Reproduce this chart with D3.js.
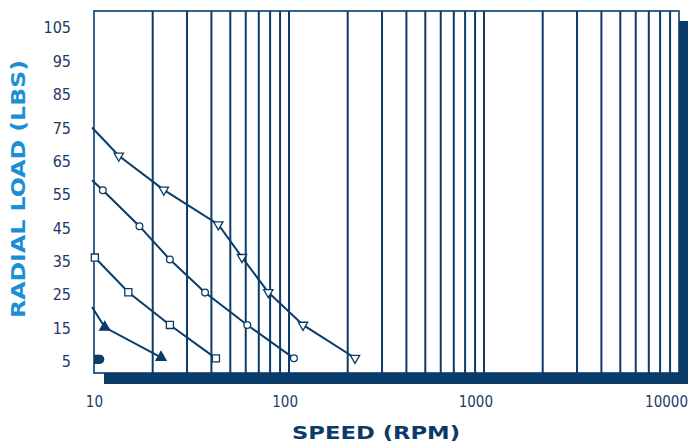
<!DOCTYPE html>
<html>
<head>
<meta charset="utf-8">
<script src="https://cdn.jsdelivr.net/npm/d3@7"></script>
<style>
	html, body { margin: 0; padding: 0; background: #fff; }
	svg { display: block; }
	.tick-label { font-family: "Liberation Sans Narrow", "DejaVu Sans Condensed", sans-serif; fill: #1c3a68; }
	.title { font-family: "DejaVu Sans", sans-serif; font-weight: bold; }
</style>
</head>
<body>
<svg id="chart" width="692" height="442"></svg>
<script>
/*global d3 */
// data: speed in rpm, radial load in lbs
var speedTicks = [10, 100, 1000, 10000];
var loadTicks = [5, 15, 25, 35, 45, 55, 65, 75, 85, 95, 105];

// first point of some series is only where the line starts (no marker)
var speedTriangleOpen = [9.77, 13.4, 22.8, 43.4, 57.4, 78.3, 118, 218];
var loadTriangleOpen = [75.1, 66.6, 56.4, 46.0, 36.2, 25.7, 15.9, 6.0];

var speedCircle = [9.77, 11.1, 17.1, 24.5, 37.1, 61.1, 106];
var loadCircle = [59.3, 56.3, 45.5, 35.5, 25.6, 15.9, 5.9];

var speedSquare = [10.1, 15.0, 24.5, 42.2];
var loadSquare = [36.1, 25.7, 15.9, 5.9];

var speedTriangleFilled = [9.77, 11.35, 22.06];
var loadTriangleFilled = [21.3, 15.2, 6.2];

var speedDot = [10.7];
var loadDot = [5.6];

(function () {
	'use strict';
	var svg, x, y, navy, plot,
		left, right, top, bottom,
		series, toPoints, drawSeries, drawDot;

	navy = '#0b3b69';
	svg = d3.select('#chart');

	x = d3.scaleLog().domain([10, 10000]).range([94, 679]);
	y = d3.scaleLinear().domain([1.5, 110]).range([373, 11]);

	left = x.range()[0];
	right = x.range()[1];
	top = y.range()[1];
	bottom = y.range()[0];

	// drop shadow behind the plot frame
	svg.append('rect')
		.attr('x', left + 10)
		.attr('y', top + 10)
		.attr('width', right - left - 1)
		.attr('height', bottom - top + 1)
		.attr('fill', navy);

	svg.append('rect')
		.attr('x', left)
		.attr('y', top)
		.attr('width', right - left)
		.attr('height', bottom - top)
		.attr('fill', '#fff')
		.attr('stroke', navy)
		.attr('stroke-width', 1.6);

	// vertical grid, one line per log tick
	plot = svg.append('g');
	plot.selectAll('line.grid')
		.data(x.ticks().filter(function (d) { return d > 10 && d < 10000; }))
		.enter().append('line')
		.attr('class', 'grid')
		.attr('x1', function (d) { return x(d); })
		.attr('x2', function (d) { return x(d); })
		.attr('y1', top)
		.attr('y2', bottom)
		.attr('stroke', navy)
		.attr('stroke-width', 2);

	// tick labels
	svg.selectAll('text.ylab')
		.data(loadTicks)
		.enter().append('text')
		.attr('class', 'tick-label ylab')
		.attr('x', 71)
		.attr('y', function (d) { return y(d); })
		.attr('dy', '0.36em')
		.attr('text-anchor', 'end')
		.attr('font-size', 16)
		.text(function (d) { return d; });

	svg.selectAll('text.xlab')
		.data(speedTicks)
		.enter().append('text')
		.attr('class', 'tick-label xlab')
		.attr('x', function (d) { return x(d) + 9; })
		.attr('y', 407)
		.attr('text-anchor', 'end')
		.attr('font-size', 15)
		.text(function (d) { return d; });

	// axis titles
	svg.append('text')
		.attr('class', 'title')
		.attr('transform', 'translate(25,318) rotate(-90)')
		.attr('font-size', 20)
		.attr('fill', '#1a8fd6')
		.attr('textLength', 258)
		.attr('lengthAdjust', 'spacingAndGlyphs')
		.text('RADIAL LOAD (LBS)');

	svg.append('text')
		.attr('class', 'title')
		.attr('x', 292)
		.attr('y', 439)
		.attr('font-size', 18)
		.attr('fill', navy)
		.attr('textLength', 168)
		.attr('lengthAdjust', 'spacingAndGlyphs')
		.text('SPEED (RPM)');

	toPoints = function (speeds, loads) {
		return speeds.map(function (s, i) {
			return { speed: s, load: loads[i] };
		});
	};

	series = [
		{ points: toPoints(speedTriangleOpen, loadTriangleOpen), markFrom: 1, symbol: d3.symbolTriangle, size: 38, rotate: 180, fill: '#fff' },
		{ points: toPoints(speedCircle, loadCircle), markFrom: 1, symbol: d3.symbolCircle, size: 36, rotate: 0, fill: '#fff' },
		{ points: toPoints(speedSquare, loadSquare), markFrom: 0, symbol: d3.symbolSquare, size: 50, rotate: 0, fill: '#fff' },
		{ points: toPoints(speedTriangleFilled, loadTriangleFilled), markFrom: 1, symbol: d3.symbolTriangle, size: 44, rotate: 0, fill: navy }
	];

	drawSeries = function (s) {
		var line = d3.line()
			.x(function (d) { return x(d.speed); })
			.y(function (d) { return y(d.load); });

		plot.append('path')
			.datum(s.points)
			.attr('d', line)
			.attr('fill', 'none')
			.attr('stroke', navy)
			.attr('stroke-width', 2);

		plot.selectAll(null)
			.data(s.points.slice(s.markFrom))
			.enter().append('path')
			.attr('d', d3.symbol().type(s.symbol).size(s.size))
			.attr('transform', function (d) {
				return 'translate(' + x(d.speed) + ',' + y(d.load) + ') rotate(' + s.rotate + ')';
			})
			.attr('fill', s.fill)
			.attr('stroke', navy)
			.attr('stroke-width', 1.3);
	};

	series.forEach(drawSeries);

	// the filled half-round marker sitting on the left edge
	drawDot = function (d) {
		var cx = x(d.speed), cy = y(d.load), r = 4.6;
		plot.append('rect')
			.attr('x', left)
			.attr('y', cy - r)
			.attr('width', cx - left)
			.attr('height', r * 2)
			.attr('fill', navy);
		plot.append('circle')
			.attr('cx', cx)
			.attr('cy', cy)
			.attr('r', r)
			.attr('fill', navy);
	};

	toPoints(speedDot, loadDot).forEach(drawDot);
}());
</script>
</body>
</html>
